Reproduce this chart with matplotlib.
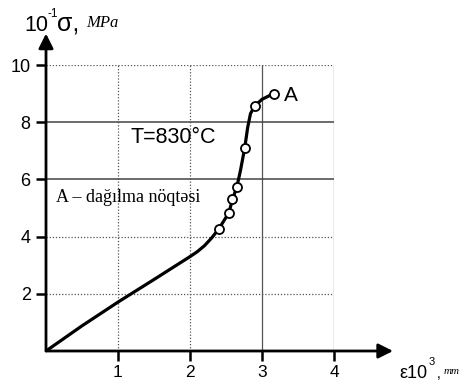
import matplotlib
matplotlib.use("Agg")
import matplotlib.pyplot as plt

# Data
strain = [0.0, 0.5, 1.0, 1.5, 2.0, 2.1, 2.2, 2.3, 2.4, 2.54, 2.59, 2.65, 2.70, 2.76, 2.80, 2.84, 2.90, 3.0, 3.16]
stress = [0.0, 0.88, 1.71, 2.5, 3.3, 3.47, 3.68, 3.95, 4.27, 4.83, 5.3, 5.73, 6.3, 7.1, 7.8, 8.3, 8.57, 8.8, 9.0]
marker_strain = [2.40, 2.54, 2.59, 2.65, 2.76, 2.90, 3.16]
marker_stress = [4.27, 4.83, 5.30, 5.73, 7.10, 8.57, 9.00]
xticks = [1, 2, 3, 4]
yticks = [2, 4, 6, 8, 10]
dotted_v = [1, 2]
solid_v = [3, 4]
dotted_h = [2, 4, 10]
solid_h = [6, 8]

W, H = 463, 383
fig = plt.figure(figsize=(W / 100, H / 100), dpi=100)
ax = fig.add_axes([46 / W, 32 / H, 288 / W, 286 / H])
ax.set_xlim(0, 4)
ax.set_ylim(0, 10)
for s in ax.spines.values():
    s.set_visible(False)

sans = ['Liberation Sans', 'DejaVu Sans']
serif = ['Liberation Serif', 'DejaVu Serif']

# grid
for x in dotted_v:
    ax.plot([x, x], [0, 10], ls=(0, (1, 1.5)), lw=0.9, color='#555', zorder=1)
for x in solid_v:
    ax.plot([x, x], [0, 10], ls='-', lw=0.9, color='#555', zorder=1)
for y in dotted_h:
    ax.plot([0, 4], [y, y], ls=(0, (1, 1.5)), lw=0.9, color='#555', zorder=1)
for y in solid_h:
    ax.plot([0, 4], [y, y], ls='-', lw=1.1, color='#444', zorder=1)

# axes with arrows
ax.annotate('', xy=(0, 11.1), xytext=(0, 0),
            arrowprops=dict(arrowstyle='-|>', lw=2.0, color='k', mutation_scale=22,
                            shrinkA=0, shrinkB=0), annotation_clip=False, zorder=5)
ax.annotate('', xy=(4.82, 0), xytext=(0, 0),
            arrowprops=dict(arrowstyle='-|>', lw=2.0, color='k', mutation_scale=22,
                            shrinkA=0, shrinkB=0), annotation_clip=False, zorder=5)

ax.set_xticks(xticks)
ax.set_yticks(yticks)
ax.set_xticklabels([str(v) for v in xticks], fontsize=12.5, family=sans)
ax.set_yticklabels([str(v) for v in yticks], fontsize=13, family=sans)
ax.tick_params(axis='both', length=7, width=1.8, color='k')
ax.tick_params(axis='x', pad=3)
ax.tick_params(axis='y', pad=4)

# curve
ax.plot(strain, stress, color='k', lw=2.3, zorder=3, solid_capstyle='round',
        solid_joinstyle='round')
ax.plot(marker_strain, marker_stress, ls='none', marker='o', ms=6.5, mfc='white',
        mec='k', mew=1.3, zorder=4)

ax.text(3.31, 8.92, 'A', fontsize=15, family=sans, va='center', ha='left')
ax.text(1.17, 7.45, 'T=830°C', fontsize=15.5, family=sans, va='center', ha='left')
ax.text(0.14, 5.35, 'A – dağılma nöqtəsi', fontsize=13, family=serif, va='center', ha='left')

def ftext(px, py, s, **kw):
    fig.text(px / W, 1 - py / H, s, **kw)

# y label
ftext(24, 31, '10', fontsize=15.5, family=sans, va='baseline')
ftext(47, 17, '-1', fontsize=8.5, family=sans, va='baseline')
ftext(57, 31, 'σ,', fontsize=18, family=sans, va='baseline')
ftext(86, 27, 'MPa', fontsize=12, family=serif, style='italic', va='baseline')

# x label
ftext(399, 378, 'ε10', fontsize=13, family=sans, va='baseline')
ftext(429, 365, '3', fontsize=8, family=sans, va='baseline')
ftext(437, 378, ',', fontsize=10, family=sans, va='baseline')
ftext(444, 374, 'mm', fontsize=8, family=serif, style='italic', va='baseline')

fig.savefig('out.png', dpi=100)
